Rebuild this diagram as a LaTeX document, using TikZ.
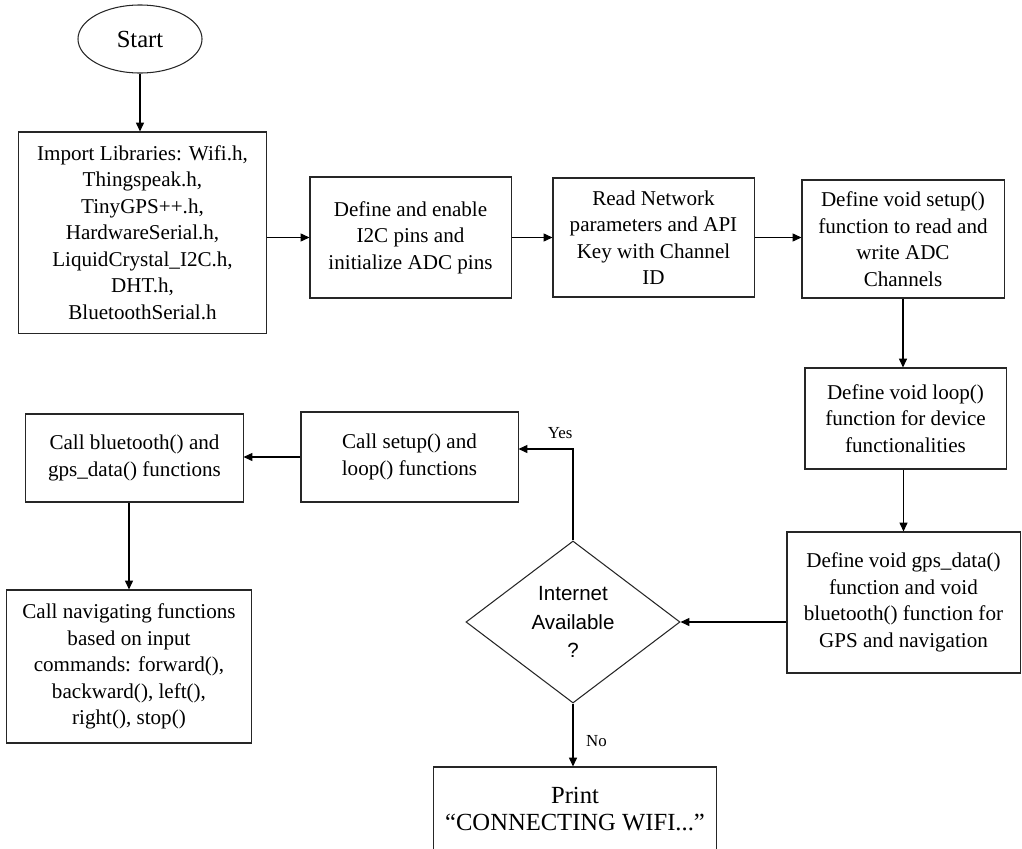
\documentclass[tikz,border=0pt]{standalone}
\usepackage{fontspec}
\setmainfont{Liberation Serif}
\newfontfamily\arialfont{Liberation Sans}
\usepackage{tikz}
\usetikzlibrary{shapes.geometric, arrows.meta}

\tikzset{
	block/.style={draw=black!85, line width=0.75pt, rectangle, align=center, inner sep=2pt,
		font=\fontsize{15pt}{18.85pt}\selectfont},
	startstop/.style={draw=black!85, line width=0.75pt, ellipse, inner sep=0pt,
		minimum width=3.1cm, minimum height=1.7cm, font=\fontsize{17.5pt}{21pt}\selectfont},
	decision/.style={draw=black!85, line width=0.75pt, diamond, aspect=1.32, inner sep=0pt,
		align=center, font=\arialfont\fontsize{14.6pt}{20.3pt}\selectfont},
	arr/.style={line width=0.75pt, -{Triangle[length=0.22cm, width=0.2cm]}},
	lbl/.style={font=\fontsize{12pt}{14pt}\selectfont}
}

\begin{document}
\begin{tikzpicture}[x=0.025cm, y=-0.025cm]
		\useasboundingbox (0,0) rectangle (1022,849);
		% top row
		\node[startstop] (start) at (140,39) {Start};
		\node[block, minimum width=6.175cm, minimum height=5.025cm] (imp) at (142.5,232.5)
			{Import Libraries: Wifi.h,\\ Thingspeak.h,\\ TinyGPS++.h,\\ HardwareSerial.h,\\ LiquidCrystal\_I2C.h,\\ DHT.h,\\ BluetoothSerial.h};
		\node[block, minimum width=5.025cm, minimum height=3.025cm] (pins) at (410.5,237.5)
			{Define and enable\\ I2C pins and\\ initialize ADC pins};
		\node[block, minimum width=5.025cm, minimum height=2.975cm] (net) at (653.5,237.5)
			{Read Network\\ parameters and API\\ Key with Channel\\ ID};
		\node[block, minimum width=5.05cm, minimum height=2.95cm] (setup) at (903,239)
			{Define void setup()\\ function to read and\\ write ADC\\ Channels};
		% right column
		\node[block, minimum width=5.025cm, minimum height=2.525cm] (loop) at (905.5,418.5)
			{Define void loop()\\ function for device\\ functionalities};
		\node[block, minimum width=5.825cm, minimum height=3.525cm] (gps) at (903.5,602.5)
			{Define void gps\_data()\\ function and void\\ bluetooth() function for\\ GPS and navigation};
		% decision
		\node[decision, minimum width=5.35cm, minimum height=4.05cm] (avail) at (573,622)
			{Internet\\ Available\\ ?};
		\node[block, minimum width=7.05cm, minimum height=2.1cm] (wifi) at (575,809)
			{\fontsize{17.5pt}{24pt}\selectfont Print\\ \fontsize{17.5pt}{24pt}\selectfont “CONNECTING WIFI...”};
		% left side
		\node[block, minimum width=5.425cm, minimum height=2.25cm] (call) at (409.5,457)
			{Call setup() and\\ loop() functions};
		\node[block, minimum width=5.425cm, minimum height=2.2cm] (bt) at (134.5,458)
			{Call bluetooth() and\\ gps\_data() functions};
		\node[block, minimum width=6.1cm, minimum height=3.825cm] (nav) at (129,666.5)
			{Call navigating functions\\ based on input\\ commands: forward(),\\ backward(), left(),\\ right(), stop()};

		% connectors
		\draw[arr] (start) -- (start |- imp.north);
		\draw[arr] (imp.east |- pins.west) -- (pins.west);
		\draw[arr] (pins) -- (net);
		\draw[arr] (net.east) -- (net.east -| setup.west);
		\draw[arr] (setup.south) -- (setup.south |- loop.north);
		\draw[arr] (loop.south -| gps.north) -- (gps.north);
		\draw[arr] (gps.west |- avail.east) -- (avail.east);
		\draw[arr] (avail.north) |- ([yshift=0.2cm]call.east)
			node[lbl, pos=0.5, anchor=south east, inner xsep=0pt, inner ysep=0.25cm] (yes) {Yes};
		\draw[arr] (call.west) -- (call.west -| bt.east);
		\draw[arr] (bt.south -| nav.north) -- (nav.north);
		\draw[arr] (avail.south) -- (avail.south |- wifi.north)
			node[lbl, pos=0.6, right, xshift=0.2cm] (no) {No};
	\end{tikzpicture}
\end{document}
